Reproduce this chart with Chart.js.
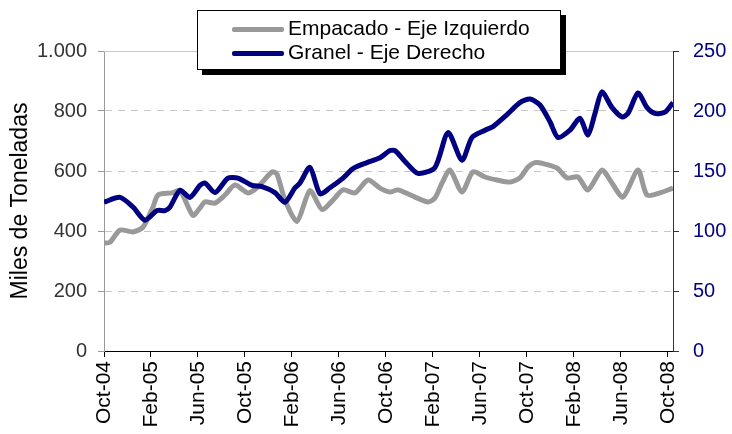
<!DOCTYPE html>
<html>
<head>
<meta charset="utf-8">
<script src="https://cdn.jsdelivr.net/npm/chart.js@4"></script>
<style>
  body { margin: 0; background: #fff; }
  #wrap { position: relative; width: 732px; height: 434px; }
  #legend {
    position: absolute; left: 197px; top: 10px; width: 362px; height: 58px;
    border: 1px solid #000; background: #fff;
    box-shadow: 5px 5px 0 #000;
    font-family: "Liberation Sans", Arial, sans-serif; font-size: 21px; color: #000;
  }
  .item { position: absolute; left: 34px; height: 24px; line-height: 24px; }
  .item span.sw { display: inline-block; width: 52px; height: 5px; vertical-align: middle; margin-right: 4px; border-radius: 2px; }
</style>
</head>
<body>
<div id="wrap">
  <canvas id="c" width="732" height="434"></canvas>
  <div id="legend">
    <div class="item" style="top:5px"><span class="sw" style="background:#999999"></span>Empacado - Eje Izquierdo</div>
    <div class="item" style="top:29px"><span class="sw" style="background:#000080"></span>Granel - Eje Derecho</div>
  </div>
</div>
<script>
// Tick labels, one every 4 months starting Oct-04
const mesLabels = ['Oct-04', 'Feb-05', 'Jun-05', 'Oct-05', 'Feb-06', 'Jun-06', 'Oct-06',
                   'Feb-07', 'Jun-07', 'Oct-07', 'Feb-08', 'Jun-08', 'Oct-08'];

// Empacado (left axis, miles de toneladas) - x in months since Oct-04
const empacadoMes = [0, 0.5, 1.36, 2.47, 3.32, 4.17, 4.6, 5.79, 6.47, 7.57, 8.17, 8.6, 9.45, 10.3,
  11.15, 12.26, 13.11, 14.3, 14.72, 15.4, 16.43, 17.53, 18.55, 19.49, 20.34, 21.36, 22.47,
  23.49, 24.34, 25.02, 26.47, 27.57, 28.17, 28.77, 29.45, 30.47, 31.4, 32.43, 33.45, 34.55,
  35.4, 36.09, 36.68, 37.36, 38.55, 39.4, 40.34, 41.19, 42.38, 43.23, 44.17, 45.45, 46.21,
  47.32, 48.43];
const empacado = [360, 362, 403, 397, 413, 480, 520, 527, 535, 452, 477, 497, 493, 520,
  553, 527, 547, 597, 590, 503, 432, 535, 472, 503, 537, 527, 570,
  543, 530, 537, 513, 497, 510, 560, 603, 530, 597, 580, 570, 563,
  577, 613, 628, 625, 610, 577, 580, 537, 603, 560, 513, 603, 520,
  527, 543];

// Granel (right axis)
const granelMes = [0, 1.36, 2.47, 3.49, 4.51, 5.19, 5.62, 6.47, 7.32, 8.17, 8.6, 9.45, 10.55,
  11.4, 12.6, 13.45, 14.55, 15.4, 16.26, 16.68, 17.53, 18.38, 19.23, 20.34, 21.19, 22.38,
  23.49, 24.34, 24.77, 25.62, 26.72, 28.17, 29.28, 30.47, 31.32, 32.43, 33.11, 34.3, 35.4,
  36.26, 37.11, 37.96, 38.64, 39.66, 40.51, 41.19, 41.79, 42.38, 43.23, 44.09, 44.6, 45.45,
  46.21, 46.89, 47.74, 48.43];
const granel = [124, 128, 120, 109, 117, 117, 120, 134, 128, 138, 140, 132, 144,
  144, 138, 137, 132, 124, 136, 140, 153, 131, 136, 144, 152, 157,
  161, 167, 167, 158, 148, 153, 182, 159, 178, 184, 187, 197, 207,
  210, 205, 191, 178, 184, 194, 180, 198, 216, 203, 195, 198, 215,
  203, 198, 199, 207];

const toPts = (xs, ys) => xs.map((x, i) => ({ x: x, y: ys[i] }));

const font = { family: '"Liberation Sans", Arial, sans-serif', size: 20 };

// solid line at the top of the plot (the 1.000 gridline)
const topLine = {
  id: 'topLine',
  beforeDatasetsDraw(chart) {
    const a = chart.chartArea, g = chart.ctx;
    g.save();
    g.strokeStyle = '#c8c8c8';
    g.lineWidth = 1;
    g.beginPath();
    g.moveTo(a.left, a.top + 0.5);
    g.lineTo(a.right, a.top + 0.5);
    g.stroke();
    g.restore();
  }
};

new Chart(document.getElementById('c'), {
  type: 'line',
  data: {
    datasets: [{
      label: 'Empacado - Eje Izquierdo',
      data: toPts(empacadoMes, empacado),
      borderColor: '#999999',
      borderWidth: 5,
      pointRadius: 0,
      tension: 0.25,
      yAxisID: 'y',
      order: 2
    }, {
      label: 'Granel - Eje Derecho',
      data: toPts(granelMes, granel),
      borderColor: '#000080',
      borderWidth: 5,
      pointRadius: 0,
      tension: 0.25,
      yAxisID: 'y2',
      order: 1
    }]
  },
  options: {
    responsive: false,
    animation: false,
    layout: { padding: { top: 51, left: 0, right: 0, bottom: 0 } },
    plugins: { legend: { display: false }, tooltip: { enabled: false } },
    scales: {
      x: {
        type: 'linear',
        min: 0,
        max: 48.43,
        afterFit: s => { s.height = 83; },
        afterBuildTicks: s => { s.ticks = mesLabels.map((l, i) => ({ value: i * 4 })); },
        ticks: {
          color: '#000',
          font: { family: font.family, size: 21 },
          padding: 4,
          maxRotation: 90,
          minRotation: 90,
          autoSkip: false,
          callback: (v) => mesLabels[Math.round(v / 4)]
        },
        grid: { drawOnChartArea: false, tickLength: 6, color: '#000' },
        border: { color: '#000', width: 1 }
      },
      y: {
        position: 'left',
        min: 0,
        max: 1000,
        afterFit: s => { s.width = 104; },
        ticks: {
          stepSize: 200,
          color: '#333',
          font: font,
          padding: 11,
          callback: v => v === 1000 ? '1.000' : v
        },
        title: {
          display: true,
          text: 'Miles de Toneladas',
          color: '#000',
          font: { family: font.family, size: 23 },
          padding: { top: 7, bottom: 0 }
        },
        grid: {
          color: ctx => ctx.tick && ctx.tick.value === 1000 ? 'rgba(0,0,0,0)' : '#c8c8c8',
          tickColor: '#999',
          tickLength: 6
        },
        border: { color: '#999', width: 1, dash: [7, 6] }
      },
      y2: {
        position: 'right',
        min: 0,
        max: 250,
        afterFit: s => { s.width = 59; },
        ticks: { stepSize: 50, color: '#000080', font: font, padding: 14 },
        grid: { drawOnChartArea: false, tickLength: 6, color: '#333' },
        border: { color: '#333', width: 1 }
      }
    }
  },
  plugins: [topLine]
});
</script>
</body>
</html>
